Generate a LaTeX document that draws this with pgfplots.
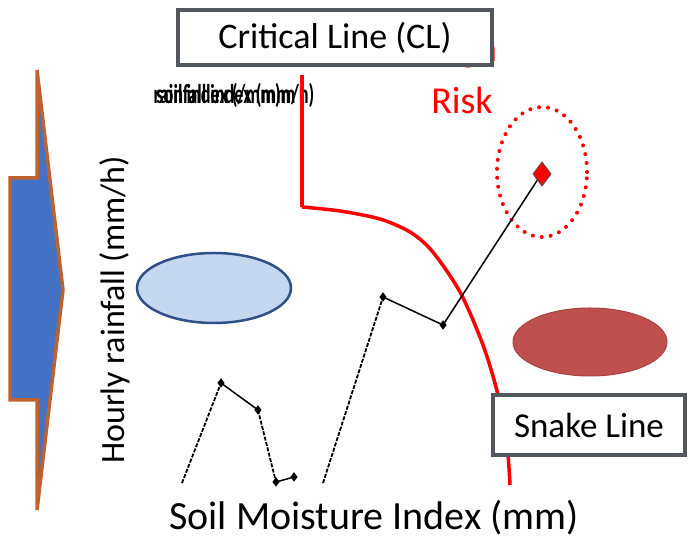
\documentclass[border=0pt]{standalone}
\usepackage{pgfplots}
\pgfplotsset{compat=1.18}
\usepackage{fontspec}
\setmainfont{Carlito}
\definecolor{arrowfill}{HTML}{4472C4}
\definecolor{arrowedge}{HTML}{BE6330}
\definecolor{boxedge}{HTML}{52575D}
\definecolor{lblue}{HTML}{C6D8EF}
\definecolor{dblue}{HTML}{2F5088}
\definecolor{dred}{HTML}{C0504D}
\definecolor{dredge}{HTML}{A8423F}
\begin{document}
\begin{tikzpicture}
\begin{axis}[
  scale only axis, width=691pt, height=540pt,
  xmin=0, xmax=691, ymin=-540, ymax=0,
  hide axis, clip=false,
]
% bounding
\addplot[draw=none] coordinates {(0,0) (691,-540)};
% arrow
\addplot[fill=arrowfill, draw=arrowedge, line width=3.5pt] coordinates {
 (37,-70) (63,-290) (37,-510) (37,-400) (10,-400) (10,-178) (37,-178)} -- cycle;
% High Risk text (behind box)
\node[text=red, anchor=base, font=\fontsize{38}{40}\selectfont] at (axis cs:462,-62) {High};
\node[text=red, font=\fontsize{38}{40}\selectfont] at (axis cs:462,-100) {Risk};
% garbled label
\node[font=\fontsize{26}{28}\selectfont\bfseries, xscale=0.70, yscale=1.05, text=black] at (axis cs:234,-95) {rainfall index (mm/h)};
\node[font=\fontsize{26}{28}\selectfont\bfseries, xscale=0.70, yscale=1.05, text=black] at (axis cs:226,-95) {soil index (/mm)m};
% red critical line
\addplot[red, line width=3.5pt] coordinates {(302,-75) (302,-207)};
\addplot[red, line width=3.5pt, smooth, tension=0.5] coordinates {
 (302,-207) (340,-211) (380,-219) (410,-232) (432,-251) (460,-292) (483,-345) (498,-395) (507,-445) (510,-485)};
% ellipses
\draw[fill=lblue, draw=dblue, line width=2.5pt] (axis cs:214,-288) ellipse [x radius=77, y radius=35];
\draw[fill=dred, draw=dredge, line width=1pt] (axis cs:590,-342) ellipse [x radius=77, y radius=34];
\draw[red, line width=4pt, line cap=round, dash pattern=on 0pt off 9pt] (axis cs:542,-172) ellipse [x radius=45, y radius=65];
% snake line
\addplot[black, line width=1.8pt, dash pattern=on 4pt off 1.5pt] coordinates {(182,-483) (221,-383)};
\addplot[black, line width=1.5pt, mark=diamond*, mark size=3.5, mark options={solid}] coordinates {(221,-383) (258,-410)};
\addplot[black, line width=1.8pt, dash pattern=on 4pt off 1.5pt] coordinates {(258,-410) (276,-482)};
\addplot[black, line width=1.5pt, mark=diamond*, mark size=3.5, mark options={solid}] coordinates {(276,-482) (294,-477)};
\addplot[black, line width=1.8pt, dash pattern=on 4pt off 1.5pt] coordinates {(323,-483) (383,-297)};
\addplot[black, line width=1.5pt, mark=diamond*, mark size=3.5, mark options={solid}] coordinates {(383,-297) (443,-325)};
\addplot[black, line width=1.5pt] coordinates {(443,-325) (542,-173)};
\addplot[only marks, mark=diamond*, mark size=12, mark options={fill=red, draw=black!70, line width=0.8pt}] coordinates {(542,-174)};
% boxes
\node[draw=boxedge, line width=4pt, fill=white, minimum width=314pt, minimum height=55pt, inner sep=0pt, font=\fontsize{36}{38}\selectfont] at (axis cs:335,-38) {Critical Line (CL)};
\node[draw=boxedge, line width=4pt, fill=white, minimum width=192pt, minimum height=60pt, inner sep=0pt, font=\fontsize{35}{37}\selectfont] at (axis cs:589,-425) {Snake Line};
% labels
\node[rotate=90, font=\fontsize{34}{36}\selectfont] at (axis cs:115,-310) {Hourly rainfall (mm/h)};
\node[font=\fontsize{40}{42}\selectfont] at (axis cs:374,-518) {Soil Moisture Index (mm)};
\end{axis}
\end{tikzpicture}
\end{document}
